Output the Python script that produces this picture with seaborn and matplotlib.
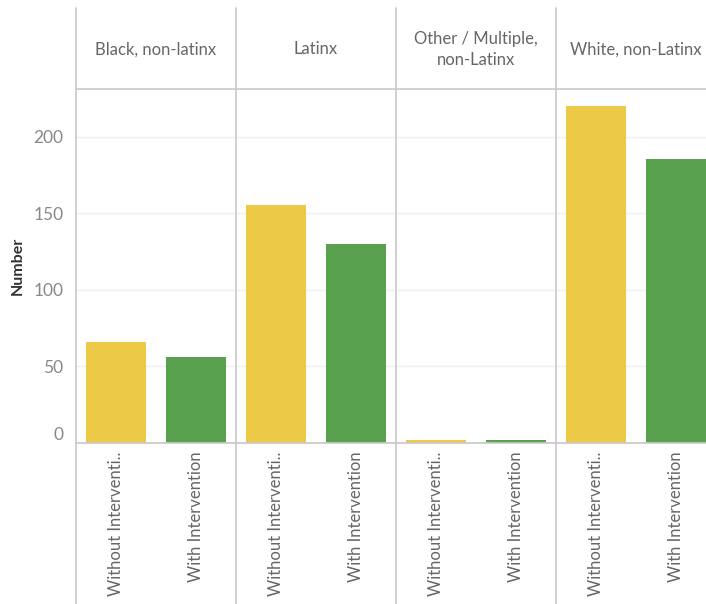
import seaborn as sns
import pandas as pd
import matplotlib.pyplot as plt
from matplotlib.lines import Line2D

# Data
races = ['Black, non-latinx', 'Latinx', 'Other / Multiple,\nnon-Latinx', 'White, non-Latinx']
groups = ['Without Intervention', 'With Intervention']
tick_labels = ['Without Interventi..', 'With Intervention']
without_vals = [66, 155, 2, 220]
with_vals = [56, 130, 2, 185]

colors = {'Without Intervention': '#edc948', 'With Intervention': '#59a14f'}
line_col = '#c8c8c8'
text_col = '#666666'

df = pd.DataFrame({
	'race': [r for r in races for _ in groups],
	'group': groups * len(races),
	'number': [v for pair in zip(without_vals, with_vals) for v in pair],
})

sns.set_style('white')
plt.rcParams['font.family'] = ['Lato', 'DejaVu Sans']

W, H = 706, 604
fig = plt.figure(figsize=(W / 100, H / 100), dpi=100)

# pixel layout
left0, col_w = 76, 160
head_top, plot_top, plot_bot = 8, 89, 443

def fx(px):
	return px / W

def fy(py):
	return 1 - py / H

for i, race in enumerate(races):
	x0 = left0 + i * col_w
	ax = fig.add_axes([fx(x0), fy(plot_bot), col_w / W, (plot_bot - plot_top) / H])
	sub = df[df['race'] == race]
	sns.barplot(
		data=sub, x='group', y='number', hue='group', order=groups,
		palette=colors, width=0.75, saturation=1, legend=False, ax=ax,
		linewidth=0,
	)
	ax.set_xlim(-0.5, 1.5)
	ax.set_ylim(0, 231)
	ax.set_yticks([0, 50, 100, 150, 200])
	ax.yaxis.grid(True, color='#efefef', lw=1)
	ax.set_axisbelow(True)
	for s in ['left', 'right']:
		ax.spines[s].set_visible(False)
	for s in ['top', 'bottom']:
		ax.spines[s].set_color(line_col)
		ax.spines[s].set_linewidth(1.2)
	ax.set_xticks([0, 1])
	ax.set_xticklabels(tick_labels, rotation=90, fontsize=12, color=text_col)
	ax.tick_params(axis='x', length=0, pad=6)
	ax.set_xticks([0.5], minor=True)
	ax.tick_params(axis='x', which='minor', length=6, color='#e6e6e6', width=1)
	ax.tick_params(axis='y', length=0)
	ax.set_xlabel('')
	if i == 0:
		ax.set_ylabel('Number', fontsize=11.5, fontweight='bold', color='#333333')
		ax.yaxis.set_label_coords(-0.32, 0.5)
		ax.tick_params(axis='y', labelsize=12.5, labelcolor='#888888', pad=9)
		lbls = ax.get_yticklabels()
		lbls[0].set_verticalalignment('bottom')
	else:
		ax.set_ylabel('')
		ax.set_yticklabels([])

	# header text
	fig.text(fx(x0 + col_w / 2), fy((head_top + plot_top) / 2 + 1), race,
		ha='center', va='center', fontsize=12, color=text_col, linespacing=1.4)

# vertical separators through header, plot and label area
for i in range(4):
	x = fx(left0 + i * col_w)
	fig.add_artist(Line2D([x, x], [fy(head_top), 0], transform=fig.transFigure,
		color=line_col, lw=1.2))

fig.savefig('out.png', dpi=100)
